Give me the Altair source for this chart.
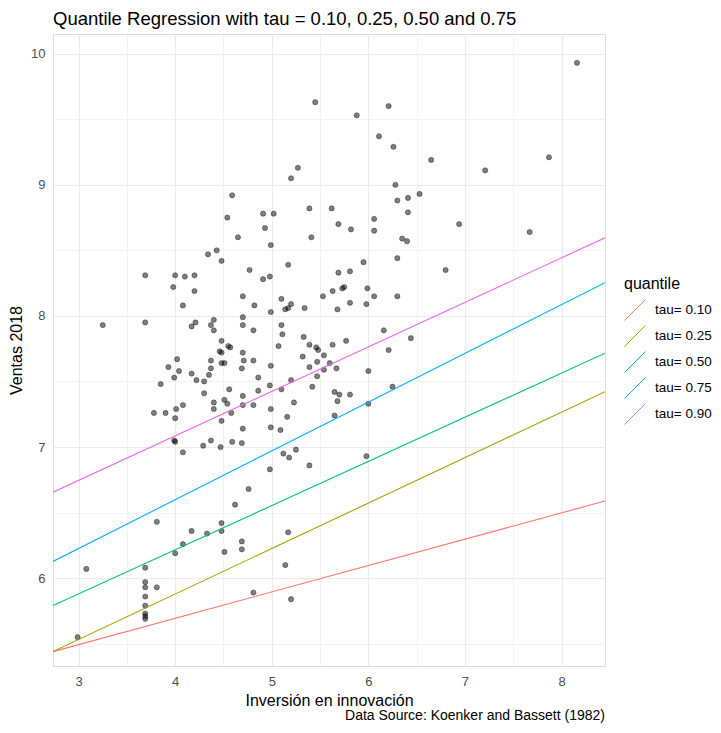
import altair as alt
import pandas as pd

# ---- Data ----
x_inv = [
    5.45, 5.27, 5.20, 4.59, 5.39, 5.62, 4.54, 4.91, 5.02, 5.69, 4.93, 4.65, 5.41, 4.99, 4.34, 4.43,
    4.48, 5.17, 4.77, 4.91, 4.98, 3.69, 4.00, 4.10, 4.20, 3.98, 4.20, 5.69, 5.81, 4.08, 4.70, 4.82,
    5.10, 4.99, 5.14, 5.17, 5.20, 5.34, 5.53, 5.63, 5.73, 5.75, 5.68, 5.81, 4.70, 3.25, 3.69, 4.21,
    4.17, 4.40, 4.37, 4.70, 5.10, 4.81,
    5.88, 6.21, 6.11, 6.26, 6.65, 7.21, 7.87, 6.28, 6.53, 6.41, 6.30, 6.06, 6.06, 6.41, 5.82, 6.35,
    6.40, 6.94, 7.67, 6.30, 5.95, 6.80, 5.99, 6.06, 6.30, 5.98, 6.16, 8.16,
    4.40, 5.11, 4.48, 4.55, 4.57, 4.46, 4.48, 5.07, 5.33, 5.39, 5.46, 5.48, 5.63, 5.77, 4.70, 4.71,
    4.81, 4.02, 4.37, 4.48, 4.51, 3.93, 4.04, 3.99, 4.17, 4.22, 4.30, 4.35, 4.37, 4.69, 4.99, 4.86,
    5.32, 5.47, 5.54, 5.39, 5.60, 5.54, 5.67, 5.47, 5.20, 3.85, 4.30, 4.56, 4.70, 4.86, 4.98, 5.10,
    5.42, 5.65, 5.70, 5.81, 5.68, 5.65, 3.78, 3.90, 4.01, 4.08, 4.00, 4.40, 4.40, 4.51, 4.54, 4.58,
    4.48, 4.70, 4.81, 4.99, 5.23, 5.16, 4.70, 4.99, 5.09, 3.99, 4.00, 4.37, 4.29, 4.47, 4.59, 4.69,
    4.08, 5.12, 5.18, 5.25, 5.39, 4.98, 4.76, 4.62, 3.81, 4.17, 4.33, 4.48, 4.48, 4.08, 4.00, 4.51,
    4.69, 4.69, 5.17, 5.14, 3.69, 3.69, 3.69, 3.69, 3.69, 3.69, 3.69, 3.69, 3.81, 4.81, 5.20,
    6.21, 6.44, 6.00, 6.25, 6.00, 5.98,
    3.08, 2.99,
]
y_ventas = [
    9.63, 9.13, 9.05, 8.92, 8.82, 8.82, 8.75, 8.78, 8.78, 8.70, 8.67, 8.60, 8.60, 8.54, 8.47, 8.50,
    8.42, 8.39, 8.35, 8.28, 8.30, 8.31, 8.31, 8.30, 8.31, 8.22, 8.19, 8.33, 8.34, 8.08, 8.15, 8.08,
    8.13, 8.03, 8.05, 8.06, 8.09, 8.06, 8.15, 8.19, 8.21, 8.22, 8.05, 8.10, 7.99, 7.93, 7.95, 7.95,
    7.92, 7.97, 7.93, 7.93, 7.93, 7.89,
    9.53, 9.60, 9.37, 9.29, 9.19, 9.11, 9.21, 9.00, 8.93, 8.90, 8.88, 8.74, 8.65, 8.79, 8.66, 8.59,
    8.57, 8.70, 8.64, 8.44, 8.41, 8.35, 8.21, 8.15, 8.15, 8.09, 7.89, 9.93,
    7.89, 7.86, 7.81, 7.77, 7.76, 7.73, 7.72, 7.77, 7.84, 7.78, 7.76, 7.74, 7.78, 7.81, 7.72, 7.66,
    7.66, 7.67, 7.66, 7.64, 7.64, 7.61, 7.58, 7.53, 7.56, 7.51, 7.50, 7.55, 7.60, 7.60, 7.62, 7.53,
    7.69, 7.65, 7.70, 7.61, 7.64, 7.59, 7.60, 7.54, 7.51, 7.48, 7.41, 7.44, 7.39, 7.43, 7.47, 7.44,
    7.46, 7.42, 7.40, 7.40, 7.35, 7.24, 7.26, 7.26, 7.29, 7.32, 7.22, 7.34, 7.29, 7.36, 7.33, 7.26,
    7.20, 7.32, 7.32, 7.29, 7.34, 7.23, 7.14, 7.15, 7.13, 7.05, 7.04, 7.05, 7.01, 7.00, 7.04, 7.03,
    6.96, 6.95, 6.92, 6.98, 6.86, 6.83, 6.68, 6.56, 6.43, 6.36, 6.34, 6.42, 6.36, 6.26, 6.19, 6.20,
    6.28, 6.22, 6.35, 6.10, 6.08, 5.97, 5.93, 5.86, 5.79, 5.73, 5.71, 5.69, 5.93, 5.89, 5.84,
    7.74, 7.83, 7.58, 7.46, 7.33, 6.93,
    6.07, 5.55,
]

tau_labels = ["tau= 0.10", "tau= 0.25", "tau= 0.50", "tau= 0.75", "tau= 0.90"]
intercepts = [4.890, 4.491, 4.870, 5.110, 5.727]
slopes = [0.201, 0.3469, 0.3367, 0.372, 0.3395]
tau_colors = ["#F8766D", "#A3A500", "#00BF7D", "#00B0F6", "#E76BF3"]

x_domain = [2.735, 8.45]
y_domain = [5.33, 10.15]
x_grid = [3, 3.5, 4, 4.5, 5, 5.5, 6, 6.5, 7, 7.5, 8]
y_grid = [5.5, 6, 6.5, 7, 7.5, 8, 8.5, 9, 9.5, 10]

title_text = "Quantile Regression with tau = 0.10, 0.25, 0.50 and 0.75"
caption_text = "Data Source: Koenker and Bassett (1982)"

# ---- Tables ----
points = pd.DataFrame({"x": x_inv, "y": y_ventas})
rows = []
for lab, a, b in zip(tau_labels, intercepts, slopes):
    for xv in x_domain:
        rows.append({"x": xv, "y": a + b * xv, "quantile": lab})
lines = pd.DataFrame(rows)

FONT = "Liberation Sans"
label_expr = "datum.value % 1 === 0 ? format(datum.value, 'd') : ''"
grid_w = {"condition": {"test": "datum.value % 1 === 0", "value": 1.1}, "value": 0.6}

x_scale = alt.Scale(domain=x_domain, nice=False, zero=False)
y_scale = alt.Scale(domain=y_domain, nice=False, zero=False)

x_axis = alt.Axis(
    values=x_grid, labelExpr=label_expr, title="Inversión en innovación",
    grid=True, gridColor="#EBEBEB", gridWidth=grid_w, ticks=False, tickSize=0, domain=False,
    labelFontSize=13, labelColor="#4D4D4D", labelPadding=9, labelFont=FONT,
    titleFontSize=16, titleColor="#000000", titleFontWeight="normal", titlePadding=4,
    titleFont=FONT, labelOverlap=False,
)
y_axis = alt.Axis(
    values=y_grid, labelExpr=label_expr, title="Ventas 2018",
    grid=True, gridColor="#EBEBEB", gridWidth=grid_w, ticks=False, tickSize=0, domain=False,
    labelFontSize=13, labelColor="#4D4D4D", labelPadding=8, labelFont=FONT,
    titleFontSize=16, titleColor="#000000", titleFontWeight="normal", titlePadding=6,
    titleFont=FONT, labelOverlap=False,
)

pts_layer = alt.Chart(points).mark_circle(
    size=27, color="#000000", fillOpacity=0.5, stroke="#000000", strokeOpacity=0.5, strokeWidth=0.7
).encode(
    x=alt.X("x:Q", scale=x_scale, axis=x_axis),
    y=alt.Y("y:Q", scale=y_scale, axis=y_axis),
)

line_layer = alt.Chart(lines).mark_line(strokeWidth=1.1, clip=True).encode(
    x=alt.X("x:Q", scale=x_scale),
    y=alt.Y("y:Q", scale=y_scale),
    color=alt.Color(
        "quantile:N",
        scale=alt.Scale(domain=tau_labels, range=tau_colors),
        legend=alt.Legend(
            title="quantile", orient="none", legendX=571, legendY=242,
            symbolType="M-1,1L1,-1", symbolSize=440, symbolStrokeWidth=1,
            symbolFillColor="transparent",
            titleFontSize=16, titleFontWeight="normal", titleColor="#000000", titleFont=FONT,
            titlePadding=7,
            labelFontSize=13.5, labelColor="#000000", labelFont=FONT, labelOffset=9,
            rowPadding=0,
        ),
    ),
    detail="quantile:N",
)

caption_layer = alt.Chart(pd.DataFrame({"t": [caption_text]})).mark_text(
    align="right", baseline="alphabetic", fontSize=14, font=FONT, color="#000000"
).encode(
    x=alt.value(552), y=alt.value(686), text="t:N"
)

chart = alt.layer(pts_layer, line_layer, caption_layer).properties(
    width=552,
    height=632,
    autosize=alt.AutoSizeParams(type="none"),
    padding={"left": 45, "top": 26, "right": 108, "bottom": 58},
    title=alt.TitleParams(
        title_text, anchor="start", frame="group", fontSize=18.5, fontWeight="normal",
        color="#000000", font=FONT, offset=6,
    ),
).configure_view(strokeWidth=0).configure(font=FONT, background="white")

chart.save("out.html", embed_options={"renderer": "svg", "actions": False})
